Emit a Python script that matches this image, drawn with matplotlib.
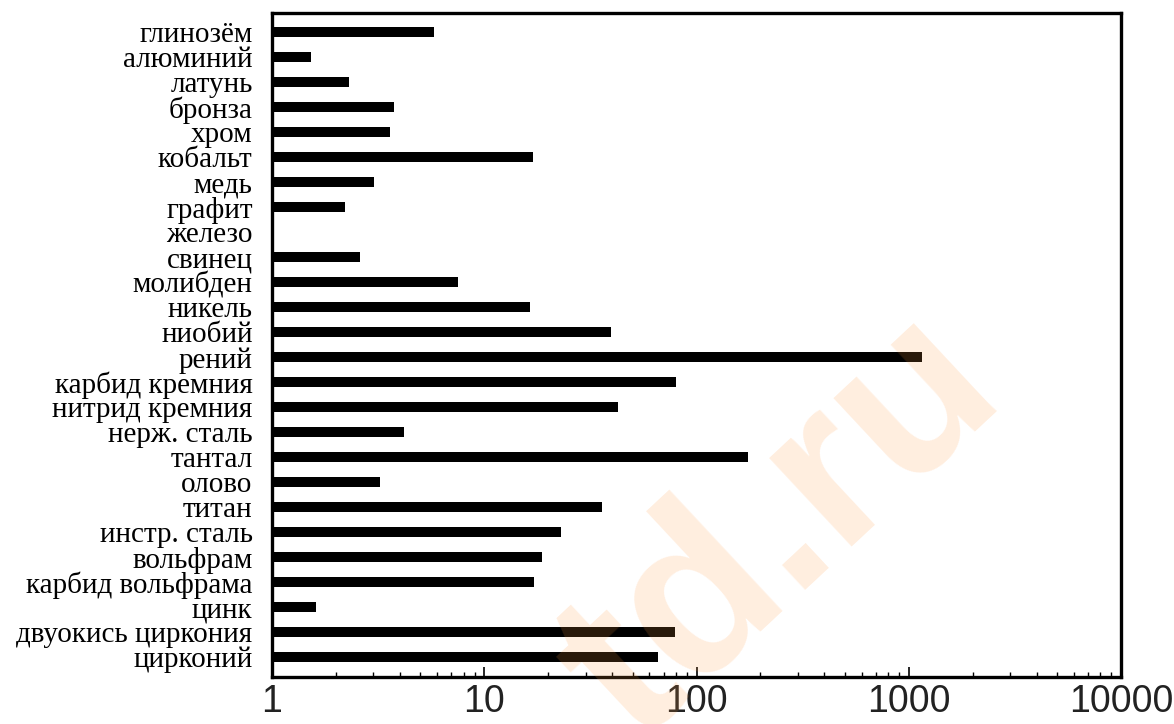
import numpy as np
import matplotlib
matplotlib.use('Agg')
import matplotlib.pyplot as plt
from matplotlib.ticker import LogLocator, NullFormatter

# materials, top to bottom
materials = ['глинозём', 'алюминий', 'латунь', 'бронза', 'хром', 'кобальт', 'медь',
             'графит', 'железо', 'свинец', 'молибден', 'никель', 'ниобий', 'рений',
             'карбид кремния', 'нитрид кремния', 'нерж. сталь', 'тантал', 'олово',
             'титан', 'инстр. сталь', 'вольфрам', 'карбид вольфрама', 'цинк',
             'двуокись циркония', 'цирконий']
values = [5.8, 1.53, 2.31, 3.76, 3.6, 17.0, 3.02,
          2.21, np.nan, 2.6, 7.5, 16.4, 39.6, 1150,
          80, 42.7, 4.19, 175, 3.23,
          35.9, 23.0, 18.7, 17.2, 1.61,
          79, 66]
xticks = [1, 10, 100, 1000, 10000]
xticklabels = ['1', '10', '100', '1000', '10000']

fig = plt.figure(figsize=(11.74, 7.24), dpi=100)
ax = fig.add_axes([0.2317, 0.0653, 0.7232, 0.9163])

y = np.arange(len(materials))
ax.barh(y, values, height=0.4, color='black')

ax.set_xscale('log')
ax.set_xlim(1, 10000)
ax.set_ylim(len(materials) - 1 + 0.78, -0.76)

ax.set_yticks(y)
ax.set_yticklabels(materials, fontfamily='Liberation Serif', fontsize=21)
ax.tick_params(axis='y', length=0, pad=14)

ax.set_xticks(xticks)
ax.set_xticklabels(xticklabels, fontfamily='Liberation Sans', fontsize=27, color='#222222')
ax.xaxis.set_minor_locator(LogLocator(base=10, subs=range(2, 10)))
ax.xaxis.set_minor_formatter(NullFormatter())
ax.tick_params(axis='x', which='major', direction='in', length=7.5, width=1.2, pad=5)
ax.tick_params(axis='x', which='minor', direction='in', length=3.8, width=1.0)
ax.tick_params(top=False, right=False)

for s in ax.spines.values():
    s.set_linewidth(2.4)

# watermark
fig.text(0.665, 0.27, 'td.ru', fontsize=165, fontweight='bold', family='Liberation Sans',
         color=(1.0, 0.6, 0.25), alpha=0.17, rotation=43, ha='center', va='center')

fig.savefig('out.png', dpi=100)
